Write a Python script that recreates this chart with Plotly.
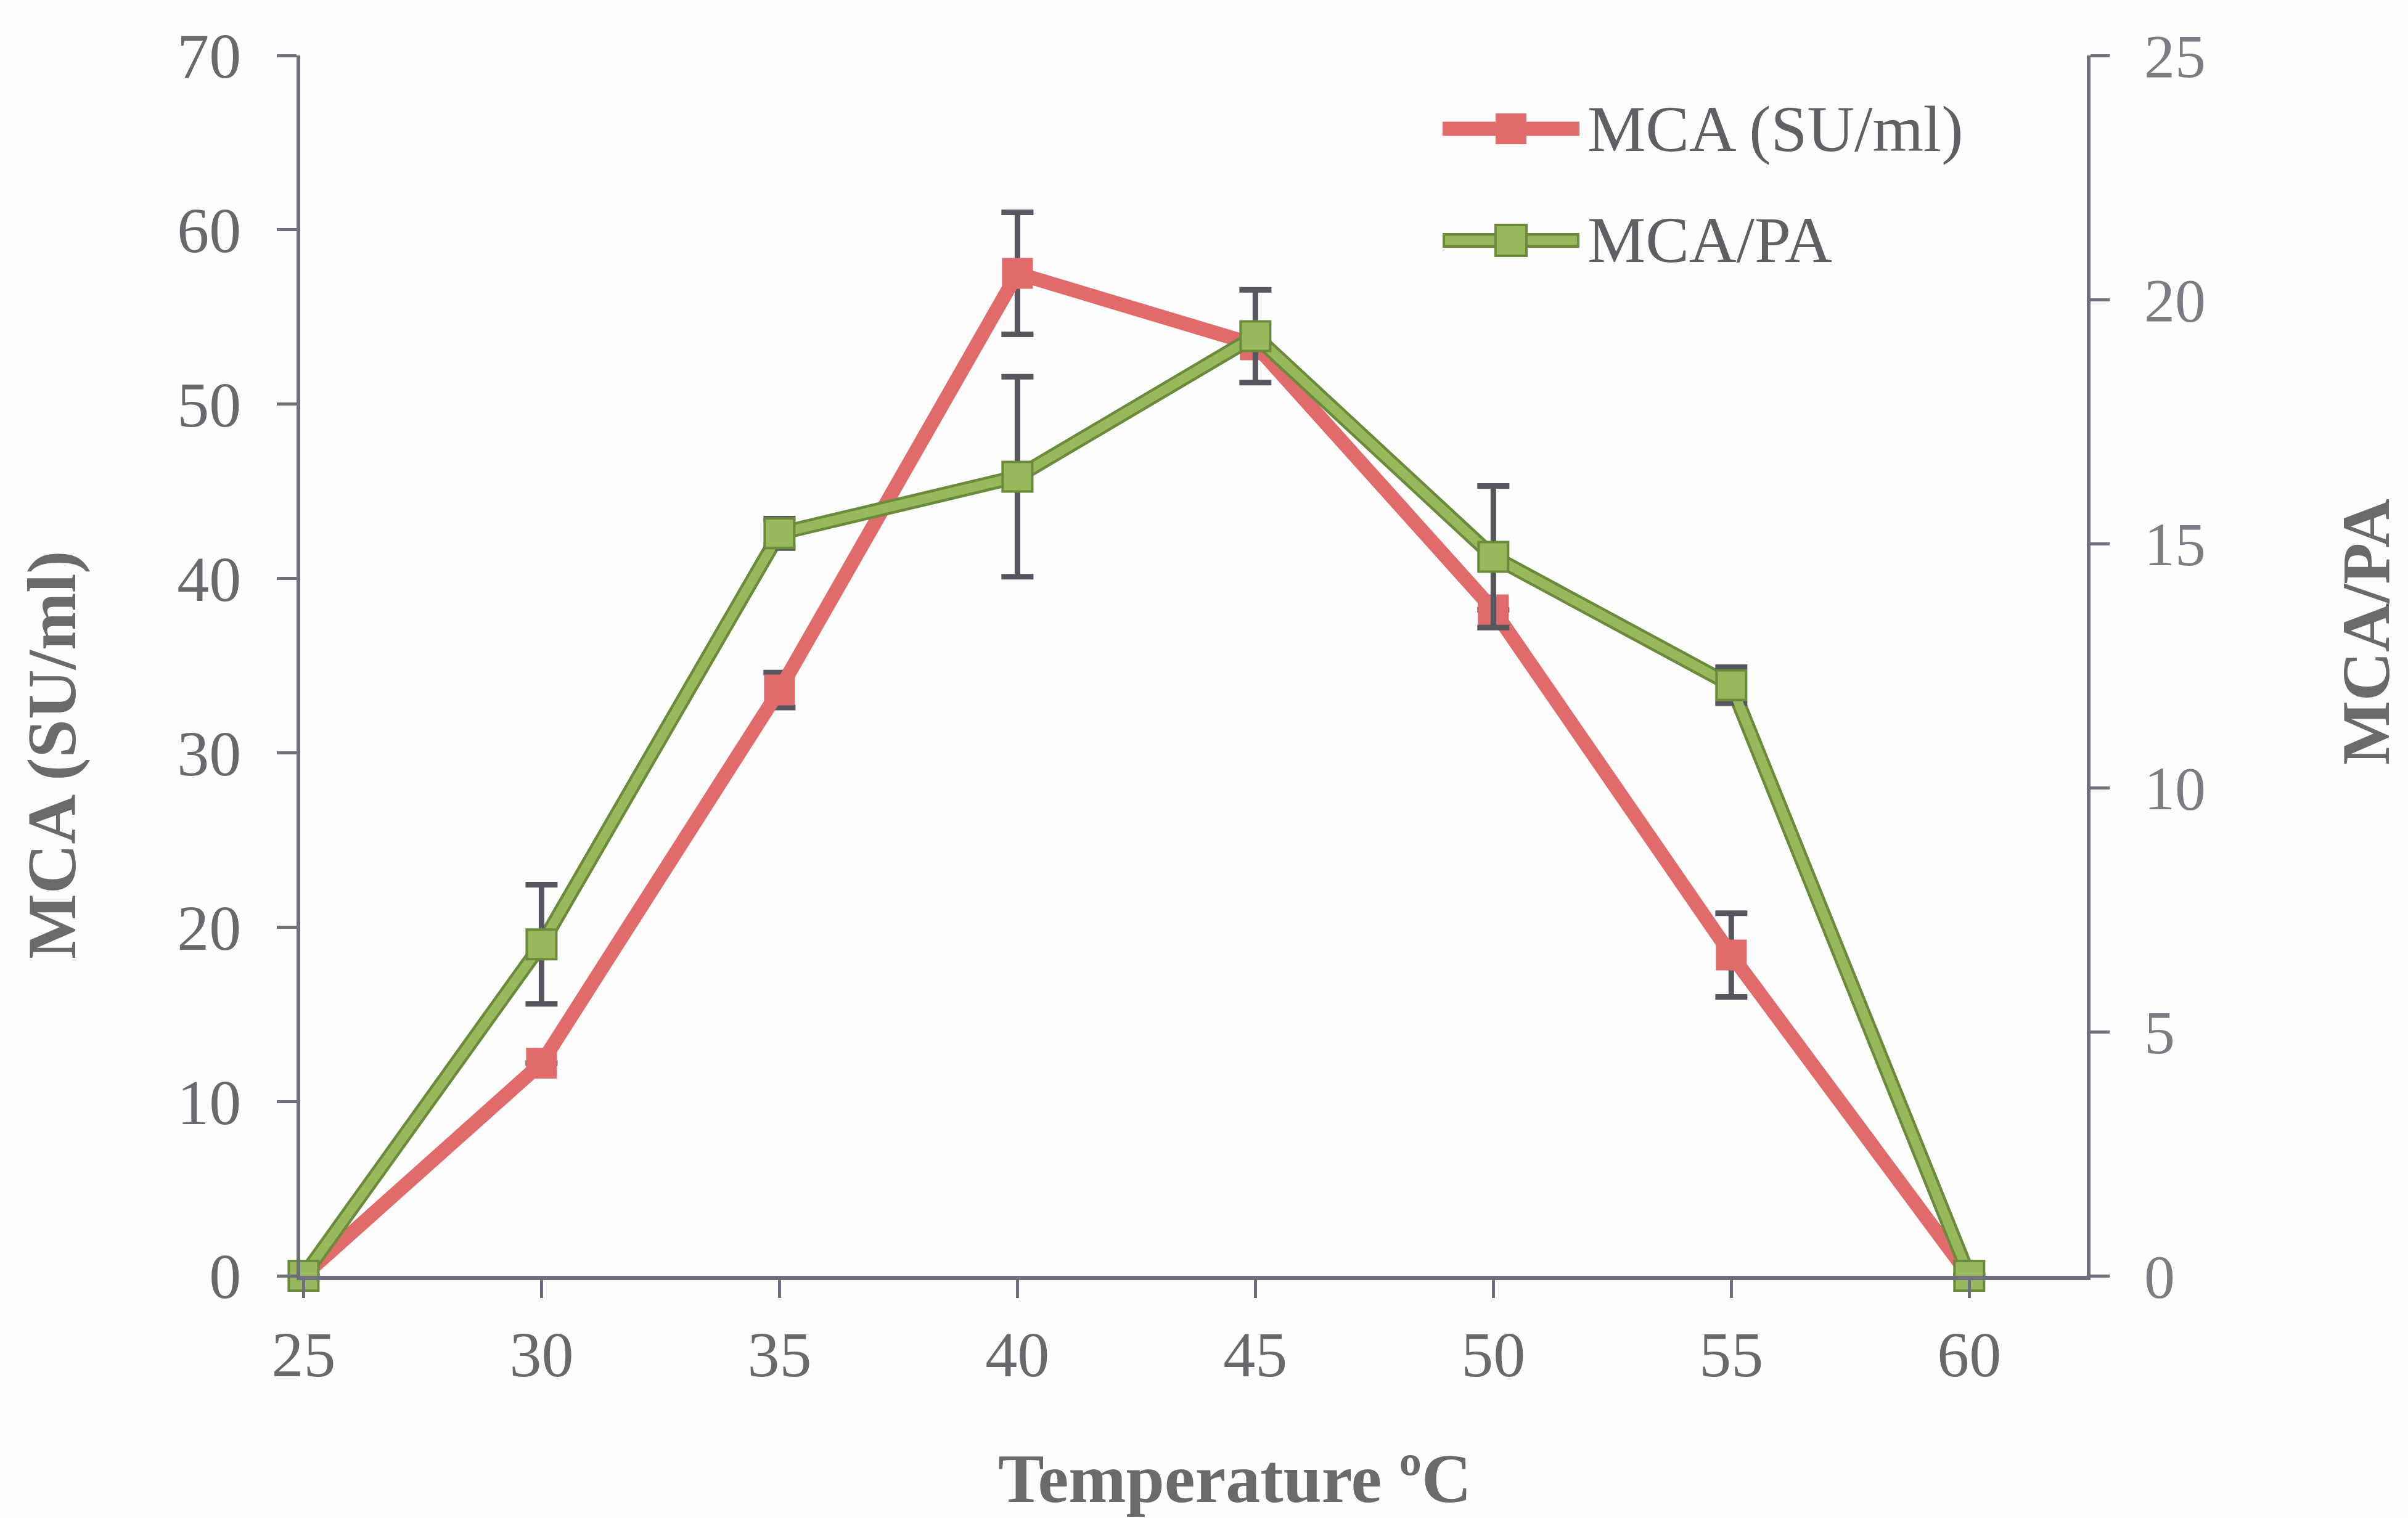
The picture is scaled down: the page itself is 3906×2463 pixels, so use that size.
import plotly.graph_objects as go

# Temperature series (°C)
temperature = [25, 30, 35, 40, 45, 50, 55, 60]

# Milk-clotting activity (SU/ml) with its error
mca = [0, 12.2, 33.6, 57.5, 53.4, 38.2, 18.4, 0]
mca_err = [0, 0, 1.0, 3.5, 0, 0, 2.4, 0]

# Ratio of milk-clotting to proteolytic activity with its error
mca_pa = [0, 6.79, 15.21, 16.37, 19.25, 14.73, 12.1, 0]
mca_pa_err = [0, 1.22, 0.3, 2.05, 0.95, 1.45, 0.37, 0]

# Axis ticks
x_ticks = [25, 30, 35, 40, 45, 50, 55, 60]
left_ticks = [0, 10, 20, 30, 40, 50, 60, 70]
right_ticks = [0, 5, 10, 15, 20, 25]

legend_names = ["MCA (SU/ml)", "MCA/PA"]

RED = "#e06b6a"
GREEN_CORE = "#98b95b"
GREEN_EDGE = "#6a8a3c"
ERR = "#56565f"
AXIS = "#6e6e7c"
SERIF = "Liberation Serif, Times New Roman, serif"

W, H = 3906, 2463
L, R, T, B = 487, 3385, 90, 2070

fig = go.Figure()

fig.add_trace(go.Scatter(
    x=temperature, y=mca, name=legend_names[0], mode="lines+markers",
    line=dict(color=RED, width=23),
    marker=dict(symbol="square", size=50, color=RED, line=dict(width=0)),
    error_y=dict(type="data", array=mca_err, color=ERR, thickness=9, width=26),
    cliponaxis=False, showlegend=False,
))

# darker outline under the MCA/PA line
fig.add_trace(go.Scatter(
    x=temperature, y=mca_pa, mode="lines", yaxis="y2",
    line=dict(color=GREEN_EDGE, width=24),
    cliponaxis=False, showlegend=False, hoverinfo="skip",
))
fig.add_trace(go.Scatter(
    x=temperature, y=mca_pa, name=legend_names[1], mode="lines+markers", yaxis="y2",
    line=dict(color=GREEN_CORE, width=15),
    marker=dict(symbol="square", size=48, color=GREEN_CORE, line=dict(width=4, color=GREEN_EDGE)),
    error_y=dict(type="data", array=mca_pa_err, color=ERR, thickness=9, width=26),
    cliponaxis=False, showlegend=False,
))

tick_font = dict(family=SERIF, size=104, color="#68686d")

fig.update_layout(
    width=W, height=H, autosize=False,
    margin=dict(l=L, r=W - R, t=T, b=H - B, pad=0),
    paper_bgcolor="#fdfdfd", plot_bgcolor="rgba(0,0,0,0)",
    xaxis=dict(
        range=[24.93, 62.47], tickvals=x_ticks, ticktext=[str(v) for v in x_ticks],
        showgrid=False, zeroline=False, showline=True, linecolor=AXIS, linewidth=7,
        ticks="outside", ticklen=29, tickwidth=5, tickcolor=AXIS,
        tickfont=tick_font, ticklabelstandoff=2,
    ),
    yaxis=dict(
        range=[0, 70], tickvals=left_ticks, showgrid=False, zeroline=False,
        showline=True, linecolor=AXIS, linewidth=6,
        ticks="outside", ticklen=32, tickwidth=5, tickcolor=AXIS,
        tickfont=tick_font, ticklabelstandoff=37,
    ),
    yaxis2=dict(
        range=[0, 25], tickvals=right_ticks, overlaying="y", side="right",
        showgrid=False, zeroline=False, showline=True, linecolor=AXIS, linewidth=6,
        ticks="outside", ticklen=31, tickwidth=5, tickcolor=AXIS,
        tickfont=dict(family=SERIF, size=100, color="#7c7c82"), ticklabelstandoff=36,
    ),
    showlegend=False,
)

title_font = dict(family=SERIF, size=112, color="#6a6a6a")


def px_x(p):
    return (p - L) / (R - L)


def px_y(p):
    return (B - p) / (B - T)


annotations = [
    dict(text="<b>Temperature ºC</b>", x=px_x(2003), y=px_y(2399), xref="paper", yref="paper",
         showarrow=False, font=title_font, xanchor="center", yanchor="middle"),
    dict(text="<b>MCA (SU/ml)</b>", x=px_x(84), y=px_y(1225), xref="paper", yref="paper",
         showarrow=False, font=title_font, textangle=-90, xanchor="center", yanchor="middle"),
    dict(text="<b>MCA/PA</b>", x=px_x(3838), y=px_y(1025), xref="paper", yref="paper",
         showarrow=False, font=dict(family=SERIF, size=110, color="#6a6a6a"),
         textangle=-90, xanchor="center", yanchor="middle"),
]

# legend keys
shapes = []
legend_rows = [(209, RED, RED, RED, 0), (390, GREEN_CORE, GREEN_EDGE, GREEN_CORE, 4)]
for name, (py, lcol, ecol, mcol, mw) in zip(legend_names, legend_rows):
    if mw:
        shapes.append(dict(type="line", xref="paper", yref="paper",
                           x0=px_x(2340), x1=px_x(2562), y0=px_y(py), y1=px_y(py),
                           line=dict(color=ecol, width=24)))
        shapes.append(dict(type="line", xref="paper", yref="paper",
                           x0=px_x(2344), x1=px_x(2558), y0=px_y(py), y1=px_y(py),
                           line=dict(color=lcol, width=15)))
    else:
        shapes.append(dict(type="line", xref="paper", yref="paper",
                           x0=px_x(2340), x1=px_x(2562), y0=px_y(py), y1=px_y(py),
                           line=dict(color=lcol, width=23)))
    shapes.append(dict(type="rect", xref="paper", yref="paper",
                       x0=px_x(2426), x1=px_x(2476), y0=px_y(py + 25), y1=px_y(py - 25),
                       fillcolor=mcol, line=dict(color=ecol, width=mw if mw else 0)))
    annotations.append(dict(text=name, x=px_x(2573), y=px_y(py), xref="paper", yref="paper",
                            showarrow=False, xanchor="left", yanchor="middle",
                            font=dict(family=SERIF, size=106, color="#5f5f64")))

fig.update_layout(annotations=annotations, shapes=shapes)

fig.write_html("out.html")
